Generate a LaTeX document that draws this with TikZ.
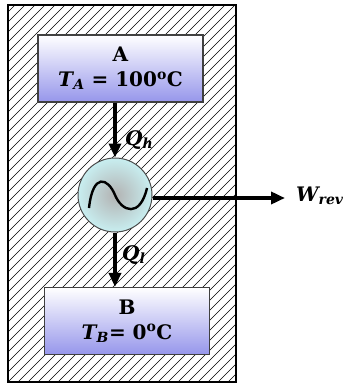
\documentclass[tikz,border=0pt]{standalone}
\usepackage{fontspec}
\setmainfont{DejaVu Serif}
\usetikzlibrary{arrows.meta}
\begin{document}
\begin{tikzpicture}[x=1pt,y=-1pt,
  reservoir/.style={draw=black!75, line width=1.2pt, top color=white, bottom color={rgb,255:red,150;green,150;blue,235}, minimum width=165pt, minimum height=67pt, inner sep=0pt, align=center, font=\fontsize{20}{25}\selectfont\bfseries},
  flow/.style={line width=4pt, -{Triangle[length=14pt,width=12pt]}},
  lbl/.style={font=\fontsize{20}{20}\selectfont\bfseries\itshape, inner sep=0pt}]
\clip (0,0) rectangle (346,383);
\fill[white] (0,0) rectangle (346,383);
% hatched enclosure
\begin{scope}
  \clip (8,5) rectangle (236,382);
  \foreach \k in {-400,-390,...,250} {
    \draw[line width=0.6pt] (\k,390) -- ++(400,-400);
  }
\end{scope}
\draw[line width=1.2pt] (8,5) rectangle (236,382);
% reservoirs
\node[reservoir] (A) at (120.5,68.5) {A\\\textit{T}\kern-1pt\textsubscript{\textit{A}} = 100\textsuperscript{o}C};
\node[reservoir] (B) at (127,321) {B\\\textit{T}\kern-1pt\textsubscript{\textit{B}}= 0\textsuperscript{o}C};
% engine
\node[circle, minimum size=74pt, inner sep=0pt, draw=black!70, line width=1pt,
      inner color=black!30, outer color={rgb,255:red,200;green,238;blue,240}] (E) at (115,195) {};
\draw[line width=2.4pt] (89,208) .. controls (93,172) and (108,178) .. (115,195)
   .. controls (122,212) and (140,218) .. (147,188);
\coordinate (W) at (285,198);
% flows
\draw[flow] (A.south -| E.north) -- (E.north);
\draw[flow] (E.south) -- (B.north -| E.south);
\draw[flow] (E.east |- W) -- (W);
% labels
\node[lbl, anchor=west] (Qh) at (125,140) {Q\textsubscript{h}};
\node[lbl, anchor=west] (Ql) at (122,255) {Q\textsubscript{l}};
\node[lbl, anchor=west] (Wr) at (296,196) {W\textsubscript{rev}};
\end{tikzpicture}
\end{document}
